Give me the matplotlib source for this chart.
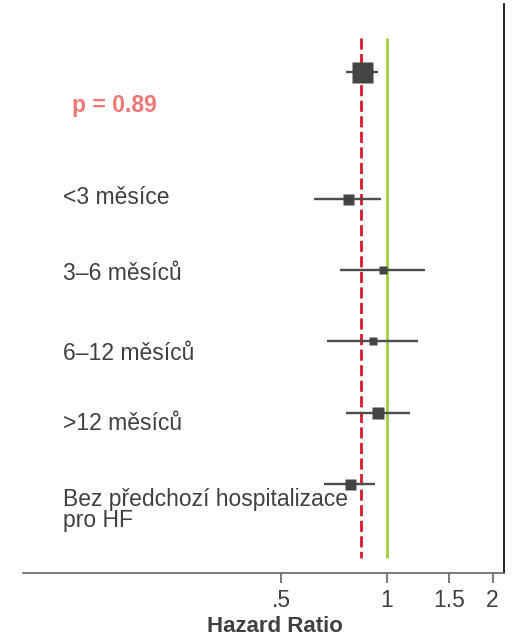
import matplotlib

matplotlib.use("Agg")

import matplotlib.pyplot as plt
import numpy as np

# subgroup rows, top to bottom (first row is the overall estimate)
labels = ["", "<3 měsíce", "3–6 měsíců", "6–12 měsíců", ">12 měsíců",
          "Bez předchozí hospitalizace\npro HF"]
rows = [0.0, 1.8, 2.8, 3.8, 4.8, 5.8]
hr = [0.85, 0.773, 0.974, 0.912, 0.943, 0.786]
ci_low = [0.766, 0.621, 0.736, 0.675, 0.764, 0.660]
ci_high = [0.941, 0.961, 1.286, 1.223, 1.160, 0.926]
weights = [21, 11, 8, 8, 12, 11]  # box side, pixels

ref_hr = 1.0
pooled_hr = 0.845
p_text = "p = 0.89"

x_ticks = [0.5, 1, 1.5, 2]
x_ticklabels = [".5", "1", "1.5", "2"]

plt.rcParams["font.family"] = ["Liberation Sans", "DejaVu Sans"]
text_col = "#404040"
fs = 16.5

fig = plt.figure(figsize=(5.19, 6.42), dpi=100)
ax = fig.add_axes([23 / 519, 69.3 / 642, 480.7 / 519, 568.7 / 642])
ax.set_xscale("log")
ax.set_xlim(0.092, 2.15)
ax.set_ylim(7.056, -0.953)

ax.vlines(ref_hr, -0.47, 6.85, color="#9ACD32", lw=1.9, zorder=1)
ax.vlines(pooled_hr, -0.47, 6.85, color="#D7192C", lw=2.0,
          linestyles=(0, (4, 1.6)), zorder=2)

for y, m, lo, hi, w in zip(rows, hr, ci_low, ci_high, weights):
    ax.hlines(y, lo, hi, color="#4d4d4d", lw=1.7, zorder=3)
    ax.plot(m, y, marker="s", ms=w * 0.72, color="#444444", mec="none", zorder=4)

# small vertical nudges so labels sit where the original put them
nudge = [-0.03, 0.04, 0.17, 0.16]
for y, lab, dy in zip(rows[1:5], labels[1:5], nudge):
    ax.text(0.0826, y + dy, lab, transform=ax.get_yaxis_transform(),
            va="center", ha="left", fontsize=fs, color=text_col)
ax.text(0.0826, rows[5] + 0.37, labels[5], transform=ax.get_yaxis_transform(),
        va="center", ha="left", fontsize=fs, color=text_col, linespacing=0.9)

ax.text(0.102, 0.48, p_text, transform=ax.get_yaxis_transform(),
        va="center", ha="left", fontsize=fs, fontweight="bold",
        color="#F07575")

ax.set_xticks(x_ticks)
ax.set_xticklabels(x_ticklabels)
ax.xaxis.set_minor_locator(matplotlib.ticker.NullLocator())
ax.tick_params(axis="x", length=7, width=1.2, color="#666666",
               labelsize=fs, labelcolor=text_col, pad=5)
ax.set_yticks([])
ax.set_xlabel("Hazard Ratio", fontsize=16, fontweight="bold",
              color=text_col)
ax.xaxis.set_label_coords(0.524, -0.077)

ax.spines["top"].set_visible(False)
ax.spines["left"].set_visible(False)
ax.spines["bottom"].set_color("#666666")
ax.spines["bottom"].set_linewidth(1.2)
ax.spines["right"].set_color("black")
ax.spines["right"].set_linewidth(1.2)

fig.savefig("out.png", facecolor="white")
